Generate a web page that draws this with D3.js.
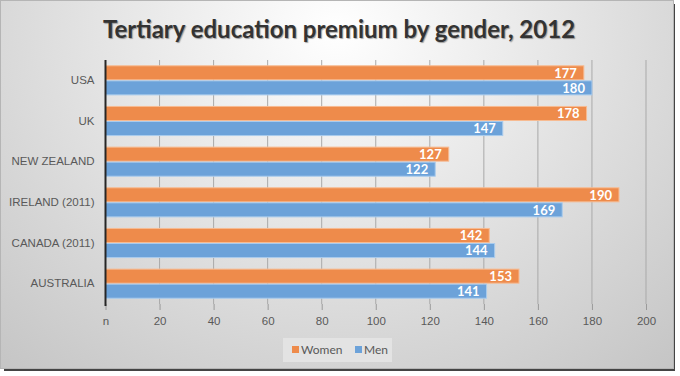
<!DOCTYPE html>
<html>
<head>
<meta charset="utf-8">
<script src="https://cdn.jsdelivr.net/npm/d3@7"></script>
<style>
	body { margin: 0; background: #fff; }
	svg { display: block; font-family: Lato, 'Open Sans', sans-serif; }
	.labels text { fill: #595959; font-size: 11.5px; }
	.labels line { stroke: #9a9a9a; }
</style>
</head>
<body>
<svg></svg>
<script>
const countries = ['USA', 'UK', 'NEW ZEALAND', 'IRELAND (2011)', 'CANADA (2011)', 'AUSTRALIA'];
const women = [177, 178, 127, 190, 142, 153];
const men = [180, 147, 122, 169, 144, 141];
const seriesNames = ['Women', 'Men'];
const tickValues = [0, 20, 40, 60, 80, 100, 120, 140, 160, 180, 200];

const width = 680;
const height = 376;
const margin = { top: 60, right: 34, bottom: 72, left: 105.5 };
const innerWidth = 646 - margin.left;
const innerHeight = 304 - margin.top;

const colors = { Women: '#ee8b4b', Men: '#6ca2d9' };
const strokes = { Women: '#f7bb92', Men: '#a9cbed' };

const svg = d3.select('svg')
	.attr('width', width)
	.attr('height', height);

const defs = svg.append('defs');
const bg = defs.append('radialGradient')
	.attr('id', 'bg')
	.attr('cx', '50%').attr('cy', '8%').attr('r', '80%')
	.attr('gradientTransform', 'translate(0.5,0.08) scale(1,1.6) translate(-0.5,-0.08)');
bg.append('stop').attr('offset', '0%').attr('stop-color', '#ffffff');
bg.append('stop').attr('offset', '100%').attr('stop-color', '#c2c2c2');

// frame shadow
svg.append('rect')
	.attr('x', 4).attr('y', 4)
	.attr('width', 671).attr('height', 367)
	.attr('fill', '#444');

svg.append('rect')
	.attr('x', 0.5).attr('y', 0.5)
	.attr('width', 673).attr('height', 368)
	.attr('fill', 'url(#bg)')
	.attr('stroke', '#b5b5b5');

svg.append('text')
	.attr('x', 339)
	.attr('y', 38)
	.attr('text-anchor', 'middle')
	.attr('fill', '#333')
	.style('font-size', '24px')
	.style('font-weight', 'bold')
	.style('text-shadow', '1px 1px 1px rgba(0,0,0,0.35)')
	.text('Tertiary education premium by gender, 2012');

const data = countries.map((c, i) => ({ country: c, Women: women[i], Men: men[i] }));

const xScale = d3.scaleLinear()
	.domain([0, 200])
	.range([0, innerWidth]);

const yScale = d3.scaleBand()
	.domain(countries)
	.range([0, innerHeight])
	.paddingInner(0.26)
	.paddingOuter(0.13);

const ySub = d3.scaleBand()
	.domain(seriesNames)
	.range([0, yScale.bandwidth()]);

const g = svg.append('g')
	.attr('transform', `translate(${margin.left},${margin.top})`);

// gridlines
g.append('g')
	.selectAll('line').data(tickValues.slice(1))
	.enter().append('line')
		.attr('x1', d => xScale(d)).attr('x2', d => xScale(d))
		.attr('y1', 0).attr('y2', innerHeight)
		.attr('stroke', '#a9a9a9');

const xAxis = d3.axisBottom(xScale)
	.tickValues(tickValues)
	.tickFormat(d => d === 0 ? 'n' : d)
	.tickSize(6)
	.tickPadding(7);

const xAxisGroup = g.append('g')
	.call(xAxis)
	.attr('transform', `translate(0, ${innerHeight})`)
	.attr('class', 'labels');
xAxisGroup.select('.domain').remove();

const yAxis = d3.axisLeft(yScale)
	.tickSize(0)
	.tickPadding(11);

const yAxisGroup = g.append('g')
	.call(yAxis)
	.attr('class', 'labels');
yAxisGroup.select('.domain').remove();

const groups = g.selectAll('g.country').data(data)
	.enter().append('g')
		.attr('class', 'country')
		.attr('transform', d => `translate(0,${yScale(d.country)})`);

seriesNames.forEach(s => {
	groups.append('rect')
		.attr('x', 0)
		.attr('y', ySub(s) + 0.5)
		.attr('width', d => xScale(d[s]))
		.attr('height', ySub.bandwidth() - 1)
		.attr('fill', colors[s])
		.attr('stroke', strokes[s]);

	groups.append('text')
		.attr('x', d => xScale(d[s]) - 7)
		.attr('y', ySub(s) + ySub.bandwidth() / 2)
		.attr('dy', '0.36em')
		.attr('text-anchor', 'end')
		.attr('fill', '#fff')
		.style('font-size', '13px')
		.style('font-weight', 'bold')
		.text(d => d[s]);
});

// vertical axis line
g.append('line')
	.attr('x1', 0).attr('x2', 0)
	.attr('y1', 0).attr('y2', innerHeight + 2)
	.attr('stroke', '#262626')
	.attr('stroke-width', 2);

// legend
const legend = svg.append('g')
	.attr('transform', 'translate(283,338)');
legend.append('rect')
	.attr('width', 109).attr('height', 24)
	.attr('fill', '#e6e6e6')
	.attr('opacity', 0.8);
const legendX = [9, 72];
seriesNames.forEach((s, i) => {
	legend.append('rect')
		.attr('x', legendX[i]).attr('y', 8)
		.attr('width', 7).attr('height', 7)
		.attr('fill', colors[s]);
	legend.append('text')
		.attr('x', legendX[i] + 9)
		.attr('y', 12)
		.attr('dy', '0.36em')
		.attr('fill', '#595959')
		.style('font-size', '12px')
		.text(s);
});
</script>
</body>
</html>
